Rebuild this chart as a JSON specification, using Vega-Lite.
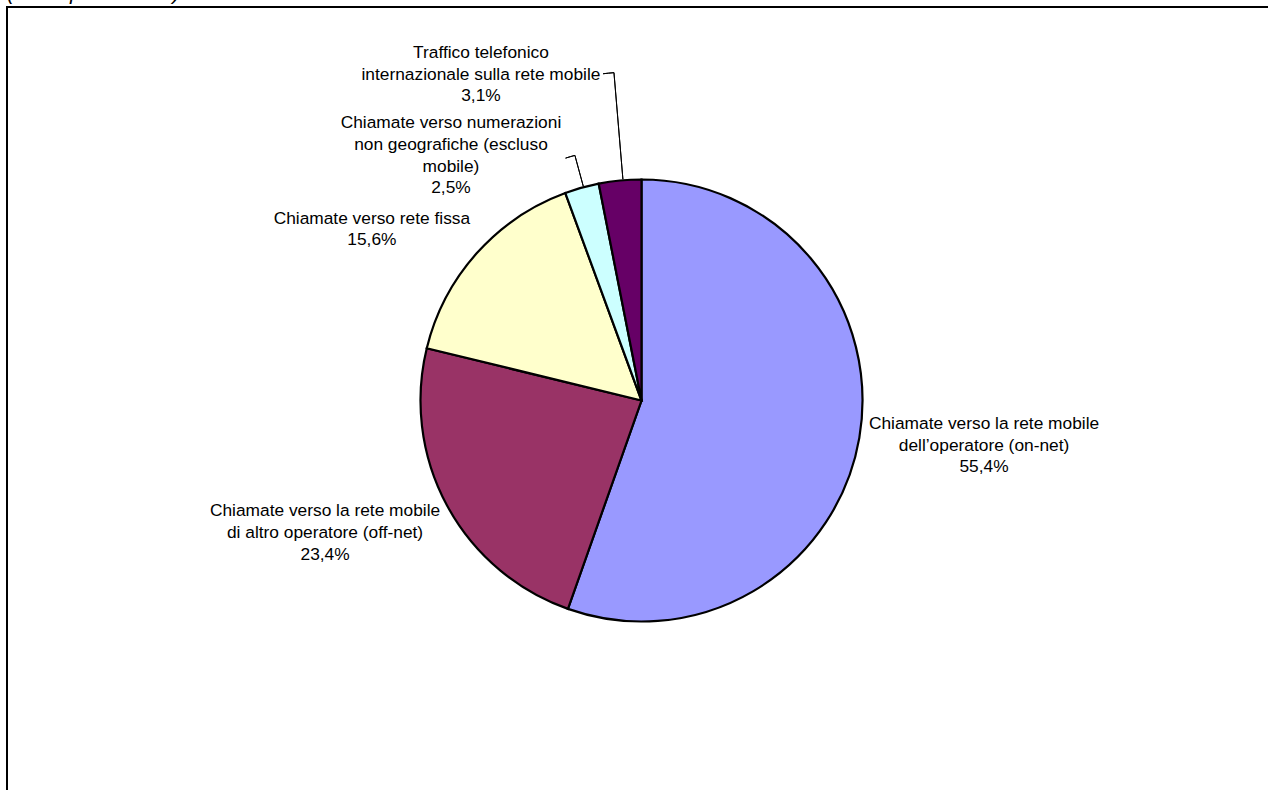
{
  "$schema": "https://vega.github.io/schema/vega-lite/v6.json",
  "width": 1269,
  "height": 787,
  "autosize": {"type": "none"},
  "padding": {"left": 7, "top": 7, "right": -8, "bottom": -4},
  "background": "white",
  "title": {
    "text": "(valori percentuali)",
    "anchor": "start",
    "frame": "group",
    "baseline": "alphabetic",
    "offset": -21,
    "font": "Liberation Sans",
    "fontSize": 21,
    "fontStyle": "italic",
    "fontWeight": "normal",
    "color": "black"
  },
  "view": {"stroke": "black", "strokeWidth": 2},
  "config": {
    "view": {"stroke": "black", "strokeWidth": 2},
    "font": "Liberation Sans"
  },
  "data": {
    "values": [
      {"ord": 1, "voce": "on-net", "valore": 55.4, "etichetta": "Chiamate verso la rete mobile\ndell’operatore (on-net)\n55,4%"},
      {"ord": 2, "voce": "off-net", "valore": 23.4, "etichetta": "Chiamate verso la rete mobile\ndi altro operatore (off-net)\n23,4%"},
      {"ord": 3, "voce": "fissa", "valore": 15.6, "etichetta": "Chiamate verso rete fissa\n15,6%"},
      {"ord": 4, "voce": "non geografiche", "valore": 2.5, "etichetta": "Chiamate verso numerazioni\nnon geografiche (escluso\nmobile)\n2,5%"},
      {"ord": 5, "voce": "internazionale", "valore": 3.1, "etichetta": "Traffico telefonico\ninternazionale sulla rete mobile\n3,1%"}
    ]
  },
  "layer": [
    {
      "mark": {"type": "rect", "fill": null, "fillOpacity": 0, "stroke": "black", "strokeWidth": 2},
      "encoding": {
        "x": {"datum": 0, "type": "quantitative", "scale": {"domain": [0, 1], "nice": false}, "axis": null},
        "x2": {"datum": 1},
        "y": {"datum": 0, "type": "quantitative", "scale": {"domain": [0, 1], "nice": false}, "axis": null},
        "y2": {"datum": 1}
      }
    },
    {
      "mark": {"type": "arc", "outerRadius": 221, "stroke": "black", "strokeWidth": 2.2},
      "encoding": {
        "theta": {"field": "valore", "type": "quantitative", "stack": true},
        "order": {"field": "ord", "type": "quantitative"},
        "color": {
          "field": "voce",
          "type": "nominal",
          "scale": {
            "domain": ["on-net", "off-net", "fissa", "non geografiche", "internazionale"],
            "range": ["#9999FF", "#993366", "#FFFFCC", "#CCFFFF", "#660066"]
          },
          "legend": null
        }
      }
    },
    {
      "mark": {"type": "arc", "innerRadius": 222, "outerRadius": 254, "padAngle": 1.2, "thetaOffset": 0.008, "fillOpacity": 0, "stroke": "black", "strokeWidth": 1},
      "encoding": {
        "theta": {"field": "valore", "type": "quantitative", "stack": true},
        "order": {"field": "ord", "type": "quantitative"},
        "detail": {"field": "voce", "type": "nominal"},
        "strokeOpacity": {"condition": {"test": "datum.voce === 'non geografiche'", "value": 1}, "value": 0}
      }
    },
    {
      "mark": {"type": "arc", "innerRadius": 254, "outerRadius": 254, "padAngle": 0.0839, "thetaOffset": -0.0112, "fillOpacity": 0, "stroke": "black", "strokeWidth": 1},
      "encoding": {
        "theta": {"field": "valore", "type": "quantitative", "stack": true},
        "order": {"field": "ord", "type": "quantitative"},
        "detail": {"field": "voce", "type": "nominal"},
        "strokeOpacity": {"condition": {"test": "datum.voce === 'non geografiche'", "value": 1}, "value": 0}
      }
    },
    {
      "mark": {"type": "arc", "innerRadius": 222, "outerRadius": 329, "padAngle": 1.2, "thetaOffset": 0.0136, "fillOpacity": 0, "stroke": "black", "strokeWidth": 1},
      "encoding": {
        "theta": {"field": "valore", "type": "quantitative", "stack": true},
        "order": {"field": "ord", "type": "quantitative"},
        "detail": {"field": "voce", "type": "nominal"},
        "strokeOpacity": {"condition": {"test": "datum.voce === 'internazionale'", "value": 1}, "value": 0}
      }
    },
    {
      "mark": {"type": "arc", "innerRadius": 329, "outerRadius": 329, "padAngle": 0.1142, "thetaOffset": -0.003, "fillOpacity": 0, "stroke": "black", "strokeWidth": 1},
      "encoding": {
        "theta": {"field": "valore", "type": "quantitative", "stack": true},
        "order": {"field": "ord", "type": "quantitative"},
        "detail": {"field": "voce", "type": "nominal"},
        "strokeOpacity": {"condition": {"test": "datum.voce === 'internazionale'", "value": 1}, "value": 0}
      }
    },
    {
      "mark": {"type": "text", "radius": 345, "dx": 2.5, "dy": -29.9, "align": "center", "baseline": "alphabetic", "lineBreak": "\n", "fontSize": 17.33, "lineHeight": 21.7, "color": "black"},
      "encoding": {
        "theta": {"field": "valore", "type": "quantitative", "stack": true},
        "order": {"field": "ord", "type": "quantitative"},
        "detail": {"field": "voce", "type": "nominal"},
        "text": {"condition": {"test": "datum.voce === 'on-net'", "field": "etichetta"}, "value": ""}
      }
    },
    {
      "mark": {"type": "text", "radius": 341, "dx": -16.6, "dy": -46.7, "align": "center", "baseline": "alphabetic", "lineBreak": "\n", "fontSize": 17.33, "lineHeight": 21.7, "color": "black"},
      "encoding": {
        "theta": {"field": "valore", "type": "quantitative", "stack": true},
        "order": {"field": "ord", "type": "quantitative"},
        "detail": {"field": "voce", "type": "nominal"},
        "text": {"condition": {"test": "datum.voce === 'off-net'", "field": "etichetta"}, "value": ""}
      }
    },
    {
      "mark": {"type": "text", "radius": 316, "dx": -33.9, "dy": 33.6, "align": "center", "baseline": "alphabetic", "lineBreak": "\n", "fontSize": 17.33, "lineHeight": 21.7, "color": "black"},
      "encoding": {
        "theta": {"field": "valore", "type": "quantitative", "stack": true},
        "order": {"field": "ord", "type": "quantitative"},
        "detail": {"field": "voce", "type": "nominal"},
        "text": {"condition": {"test": "datum.voce === 'fissa'", "field": "etichetta"}, "value": ""}
      }
    },
    {
      "mark": {"type": "text", "radius": 288, "dx": -112.8, "dy": 5, "align": "center", "baseline": "alphabetic", "lineBreak": "\n", "fontSize": 17.33, "lineHeight": 21.7, "color": "black"},
      "encoding": {
        "theta": {"field": "valore", "type": "quantitative", "stack": true},
        "order": {"field": "ord", "type": "quantitative"},
        "detail": {"field": "voce", "type": "nominal"},
        "text": {"condition": {"test": "datum.voce === 'non geografiche'", "field": "etichetta"}, "value": ""}
      }
    },
    {
      "mark": {"type": "text", "radius": 341, "dx": -127.4, "dy": -3.2, "align": "center", "baseline": "alphabetic", "lineBreak": "\n", "fontSize": 17.33, "lineHeight": 21.7, "color": "black"},
      "encoding": {
        "theta": {"field": "valore", "type": "quantitative", "stack": true},
        "order": {"field": "ord", "type": "quantitative"},
        "detail": {"field": "voce", "type": "nominal"},
        "text": {"condition": {"test": "datum.voce === 'internazionale'", "field": "etichetta"}, "value": ""}
      }
    }
  ]
}
